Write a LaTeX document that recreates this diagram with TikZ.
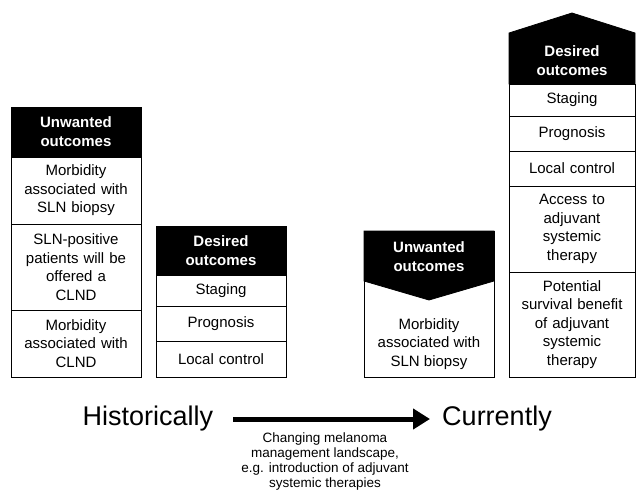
\documentclass[tikz,border=0pt]{standalone}
\usepackage{fontspec}
\setmainfont{Liberation Sans}
\usetikzlibrary{arrows.meta}
\begin{document}
\begin{tikzpicture}[x=1pt,y=-1pt,
  cell/.style={draw=black, line width=0.8pt, minimum width=130pt, text width=126pt, inner xsep=2pt, inner ysep=0pt, align=center, font=\fontsize{15}{18.5}\selectfont},
  rcell/.style={cell, minimum width=126pt, text width=122pt},
  headcell/.style={cell, fill=black, text=white, font=\fontsize{15}{19}\selectfont\bfseries},
  headtxt/.style={text=white, align=center, inner sep=0pt, font=\fontsize{15}{19}\selectfont\bfseries},
  bodytxt/.style={align=center, inner sep=0pt, font=\fontsize{15}{18.5}\selectfont},
  chev/.style={fill=black, draw=black, line width=0.8pt},
  big/.style={font=\fontsize{27}{32}\selectfont, inner sep=0pt},
  captxt/.style={font=\fontsize{13.5}{14.8}\selectfont, align=center, inner sep=0pt},
  flow/.style={line width=5pt, -{Triangle[length=17pt,width=20pt]}}
]
\useasboundingbox (0,0) rectangle (636,494);

% Historically: left box
\node[headcell, minimum height=50pt] (lh) at (76,132) {Unwanted\\outcomes};
\node[cell, minimum height=67pt] (l1) at (76,190.5) {Morbidity\\associated with\\SLN biopsy};
\node[cell, minimum height=86pt] (l2) at (76,267) {SLN-positive\\patients will be\\offered a\\CLND};
\node[cell, minimum height=67pt] (l3) at (76,343.5) {Morbidity\\associated with\\CLND};

% Historically: middle box
\node[headcell, minimum height=49pt] (mh) at (221,250.5) {Desired\\outcomes};
\node[cell, minimum height=31pt] (m1) at (221,290.5) {Staging};
\node[cell, minimum height=35pt] (m2) at (221,323.5) {Prognosis};
\node[cell, minimum height=36pt] (m3) at (221,359) {Local control};

% Currently: unwanted box with downward chevron
\path[chev] (364,231) -- (494,231) -- (494,281) -- (429,300) -- (364,281) -- cycle;
\node[cell, minimum height=146pt] (ru) at (429,304) {};
\node[headtxt] (ruh) at (429,257) {Unwanted\\outcomes};
\node[bodytxt] (rub) at (429,344) {Morbidity\\associated with\\SLN biopsy};

% Currently: desired box with upward chevron
\path[chev] (509,84) -- (509,33) -- (572,13) -- (635,33) -- (635,84) -- cycle;
\node[headtxt] (rdh) at (572,61) {Desired\\outcomes};
\node[rcell, minimum height=32pt] (r1) at (572,100) {Staging};
\node[rcell, minimum height=35pt] (r2) at (572,133.5) {Prognosis};
\node[rcell, minimum height=35pt] (r3) at (572,168.5) {Local control};
\node[rcell, minimum height=86pt] (r4) at (572,229) {Access to\\adjuvant\\systemic\\therapy};
\node[rcell, minimum height=105pt] (r5) at (572,324.5) {Potential\\survival benefit\\of adjuvant\\systemic\\therapy};

% Bottom timeline
\node[big, anchor=base] (hist) at (148,425) {Historically};
\node[big, anchor=base] (curr) at (497,425) {Currently};
\coordinate (arrS) at (233,419);
\coordinate (arrE) at (430,419);
\draw[flow] (arrS) -- (arrE);
\node[captxt, anchor=north] (cap) at (325,433) {Changing melanoma\\management landscape,\\e.g. introduction of adjuvant\\systemic therapies};
\end{tikzpicture}
\end{document}
